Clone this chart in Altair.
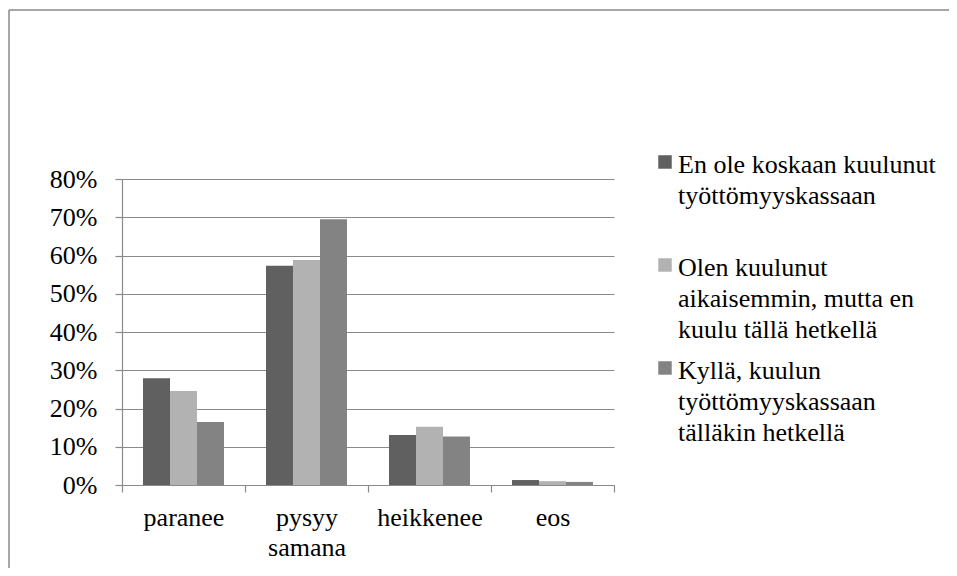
import altair as alt
import pandas as pd

categories = ["paranee", "pysyy samana", "heikkenee", "eos"]
series = [
    "En ole koskaan kuulunut\ntyöttömyyskassaan",
    "Olen kuulunut\naikaisemmin, mutta en\nkuulu tällä hetkellä",
    "Kyllä, kuulun\ntyöttömyyskassaan\ntälläkin hetkellä",
]
en_ole = [27.9, 57.3, 13.1, 1.3]
olen = [24.6, 58.8, 15.2, 1.0]
kylla = [16.5, 69.5, 12.7, 0.8]
colors = ["#606060", "#b2b2b2", "#838383"]
y_ticks = [0, 0.1, 0.2, 0.3, 0.4, 0.5, 0.6, 0.7, 0.8]

rows = []
for s, vals in zip(series, [en_ole, olen, kylla]):
    for c, v in zip(categories, vals):
        rows.append({"category": c, "series": s, "value": v / 100})
df = pd.DataFrame(rows)

FONT = "Liberation Serif"
GRAY = "#8a8a8a"

bars = alt.Chart(df).mark_bar().encode(
    x=alt.X(
        "category:N",
        sort=categories,
        scale=alt.Scale(paddingInner=0, paddingOuter=0),
        axis=alt.Axis(
            title=None,
            labelAngle=0,
            labelExpr="split(datum.label, ' ')",
            tickBand="extent",
            tickSize=7,
            labelPadding=12,
            labelLineHeight=30,
            labelBaseline="top",
            labelFont=FONT,
            grid=False,
        ),
    ),
    xOffset=alt.XOffset(
        "series:N", sort=series, scale=alt.Scale(paddingInner=0, paddingOuter=0.778)
    ),
    y=alt.Y(
        "value:Q",
        scale=alt.Scale(domain=[0, 0.8]),
        axis=alt.Axis(
            title=None,
            format=".0%",
            values=y_ticks,
            tickSize=7,
            labelPadding=18,
            labelFont=FONT,
            grid=True,
            gridColor=GRAY,
            gridWidth=1.2,
        ),
    ),
    color=alt.Color(
        "series:N",
        sort=series,
        scale=alt.Scale(domain=series, range=colors),
        legend=alt.Legend(
            title=None,
            orient="none",
            legendX=530,
            legendY=-40,
            symbolType="M-1,0.48H1V2.48H-1Z",
            symbolSize=182,
            symbolStrokeWidth=0,
            symbolOpacity=1,
            labelFont=FONT,
            labelFontSize=26,
            labelColor="#000000",
            labelExpr="split(datum.label, '\\n')",
            labelBaseline="top",
            labelLimit=500,
            labelOffset=0,
            gridAlign="all",
            rowPadding=2,
        ),
    ),
)

frame_src = pd.DataFrame({"f": [0]})
frame_top = alt.Chart(frame_src).mark_rule(stroke=GRAY, strokeWidth=1.5).encode(
    x=alt.value(-113), x2=alt.value(830), y=alt.value(-169)
)
frame_left = alt.Chart(frame_src).mark_rule(stroke=GRAY, strokeWidth=1.5).encode(
    x=alt.value(-113), y=alt.value(-169), y2=alt.value(392)
)

chart = alt.layer(frame_top, frame_left, bars).properties(
    width=492,
    height=306,
    autosize=alt.AutoSizeParams(type="none"),
    padding={"left": 114, "top": 171, "right": 335, "bottom": 83},
    background="white",
).configure(
    style={"guide-label": {"lineHeight": 31}}
).configure_view(strokeWidth=0).configure_axis(
    labelFont=FONT,
    labelFontSize=26,
    labelColor="#000000",
    domainColor=GRAY,
    tickColor=GRAY,
    domainWidth=1.2,
    tickWidth=1.2,
).configure_legend(
    labelFont=FONT,
    labelFontSize=26,
    labelColor="#000000",
)

chart.save("out.html", embed_options={"renderer": "svg", "actions": False})
